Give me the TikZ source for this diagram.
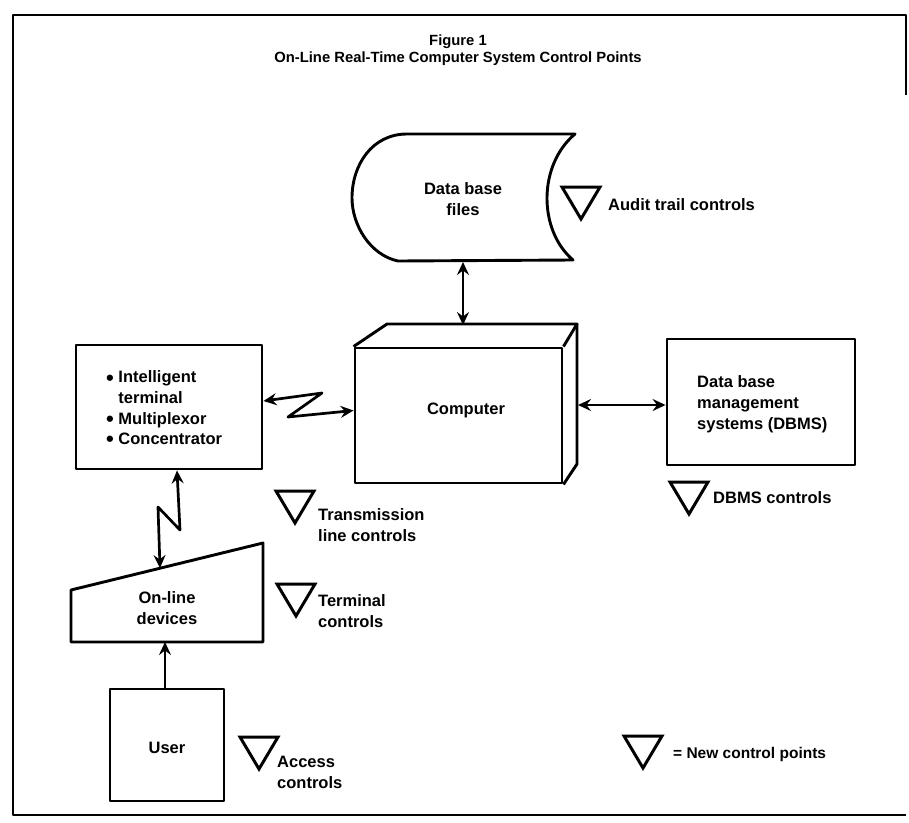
\documentclass[tikz,border=0pt]{standalone}
\usepackage{fontspec}
\setmainfont{Liberation Sans}
\usetikzlibrary{arrows.meta,calc}

\newcommand{\bigbul}{\raisebox{-2.2pt}{\fontsize{22}{20}\selectfont\textbullet}}

\begin{document}
\begin{tikzpicture}[x=1pt,y=-1pt,line join=round,
  shapeline/.style={line width=2.9pt},
  tip/.tip={Stealth[length=13pt,width=12pt,inset=4.5pt]},
  conn/.style={line width=2.7pt,tip-tip},
  oneway/.style={line width=2.7pt,-tip},
  lbl/.style={font=\bfseries\fontsize{16.5}{21}\selectfont,inner sep=0pt},
  boxnode/.style={draw,shapeline,inner sep=0pt},
  ctrlmark/.pic={\draw[line width=3pt,line join=miter] (-19,-16) -- (19,-16) -- (0,16) -- cycle;}
]
\useasboundingbox (0,0) rectangle (909,822);

% frame
\draw[line width=2pt] (906,95) -- (906,15) -- (13,15) -- (13,815) -- (906,815);

% title
\node[font=\bfseries\fontsize{14.8}{17}\selectfont,align=center] (title) at (458,50)
  {Figure 1\\On-Line Real-Time Computer System Control Points};

% data base files
\draw[shapeline] (407,134) -- (575,134)
  .. controls (538,165) and (538,230) .. (573,260) -- (398,261)
  .. controls (370,255) and (352,225) .. (352,198)
  .. controls (352,165) and (372,134) .. (407,134) -- cycle;
\node[lbl,align=center] (db) at (463,199) {Data base\\files};
\coordinate (dbB) at (463,262);

% computer
\node[boxnode,minimum width=207pt,minimum height=135pt] (comp) at (458.5,415.5) {};
\node[lbl] (comptxt) at (466,410) {Computer};
\draw[shapeline] (comp.north west) -- (387,324) -- (577,324) -- (comp.north east);
\draw[shapeline] (577,324) -- (577,464) -- (comp.south east);
\coordinate (compT) at (463,325);
\coordinate (compR) at (578,405);

% DBMS
\node[boxnode,minimum width=188pt,minimum height=126pt] (dbms) at (761,402) {};
\node[lbl,anchor=west,align=left] (dbmstxt) at (697,404)
  {Data base\\management\\systems (DBMS)};

% intelligent terminal
\node[boxnode,minimum width=186pt,minimum height=124pt] (term) at (169,407) {};
\node[lbl,anchor=west,align=left,font=\bfseries\fontsize{16.5}{20.6}\selectfont] (termtxt) at (106,409)
  {\bigbul\ Intelligent\\\phantom{\bigbul\ }terminal\\\bigbul\ Multiplexor\\\bigbul\ Concentrator};

% on-line devices
\draw[shapeline] (71,590) -- (263,543) -- (263,642) -- (71,642) -- cycle;
\node[lbl,align=center] (online) at (167,608) {On-line\\devices};
\coordinate (onTop) at (160,568);
\coordinate (onBot) at (165,642);

% user
\node[boxnode,minimum width=114pt,minimum height=112pt] (user) at (167,745) {};
\node[lbl] (usertxt) at (167,748) {User};

% connectors
\draw[conn] (dbB) -- (compT);
\draw[conn] (compR) -- (compR -| dbms.west);
\coordinate (z1) at (322,393);
\coordinate (z2) at (288,417);
\draw[conn] ([yshift=6pt]term.east) -- (z1) -- (z2) -- ([yshift=5pt]comp.west);
\coordinate (n1) at (180,530);
\coordinate (n2) at (158,507);
\draw[conn] (term.south -| 177,0) -- (n1) -- (n2) -- (onTop);
\draw[oneway] (user.north -| onBot) -- (onBot);

% control points
\pic at (581,203) {ctrlmark};
\node[lbl,anchor=west] (audit) at (608,205) {Audit trail controls};
\pic at (295,507) {ctrlmark};
\node[lbl,anchor=west,align=left] (trans) at (318,525) {Transmission\\line controls};
\pic at (296,600) {ctrlmark};
\node[lbl,anchor=west,align=left] (termc) at (318,611) {Terminal\\controls};
\pic at (259,753) {ctrlmark};
\node[lbl,anchor=west,align=left] (access) at (277,772) {Access\\controls};
\pic at (689,498) {ctrlmark};
\node[lbl,anchor=west] (dbmsc) at (713,498) {DBMS controls};
\pic at (643,752) {ctrlmark};
\node[lbl,anchor=west,font=\bfseries\fontsize{15.5}{20}\selectfont] (legend) at (673,754) {= New control points};
\end{tikzpicture}
\end{document}
